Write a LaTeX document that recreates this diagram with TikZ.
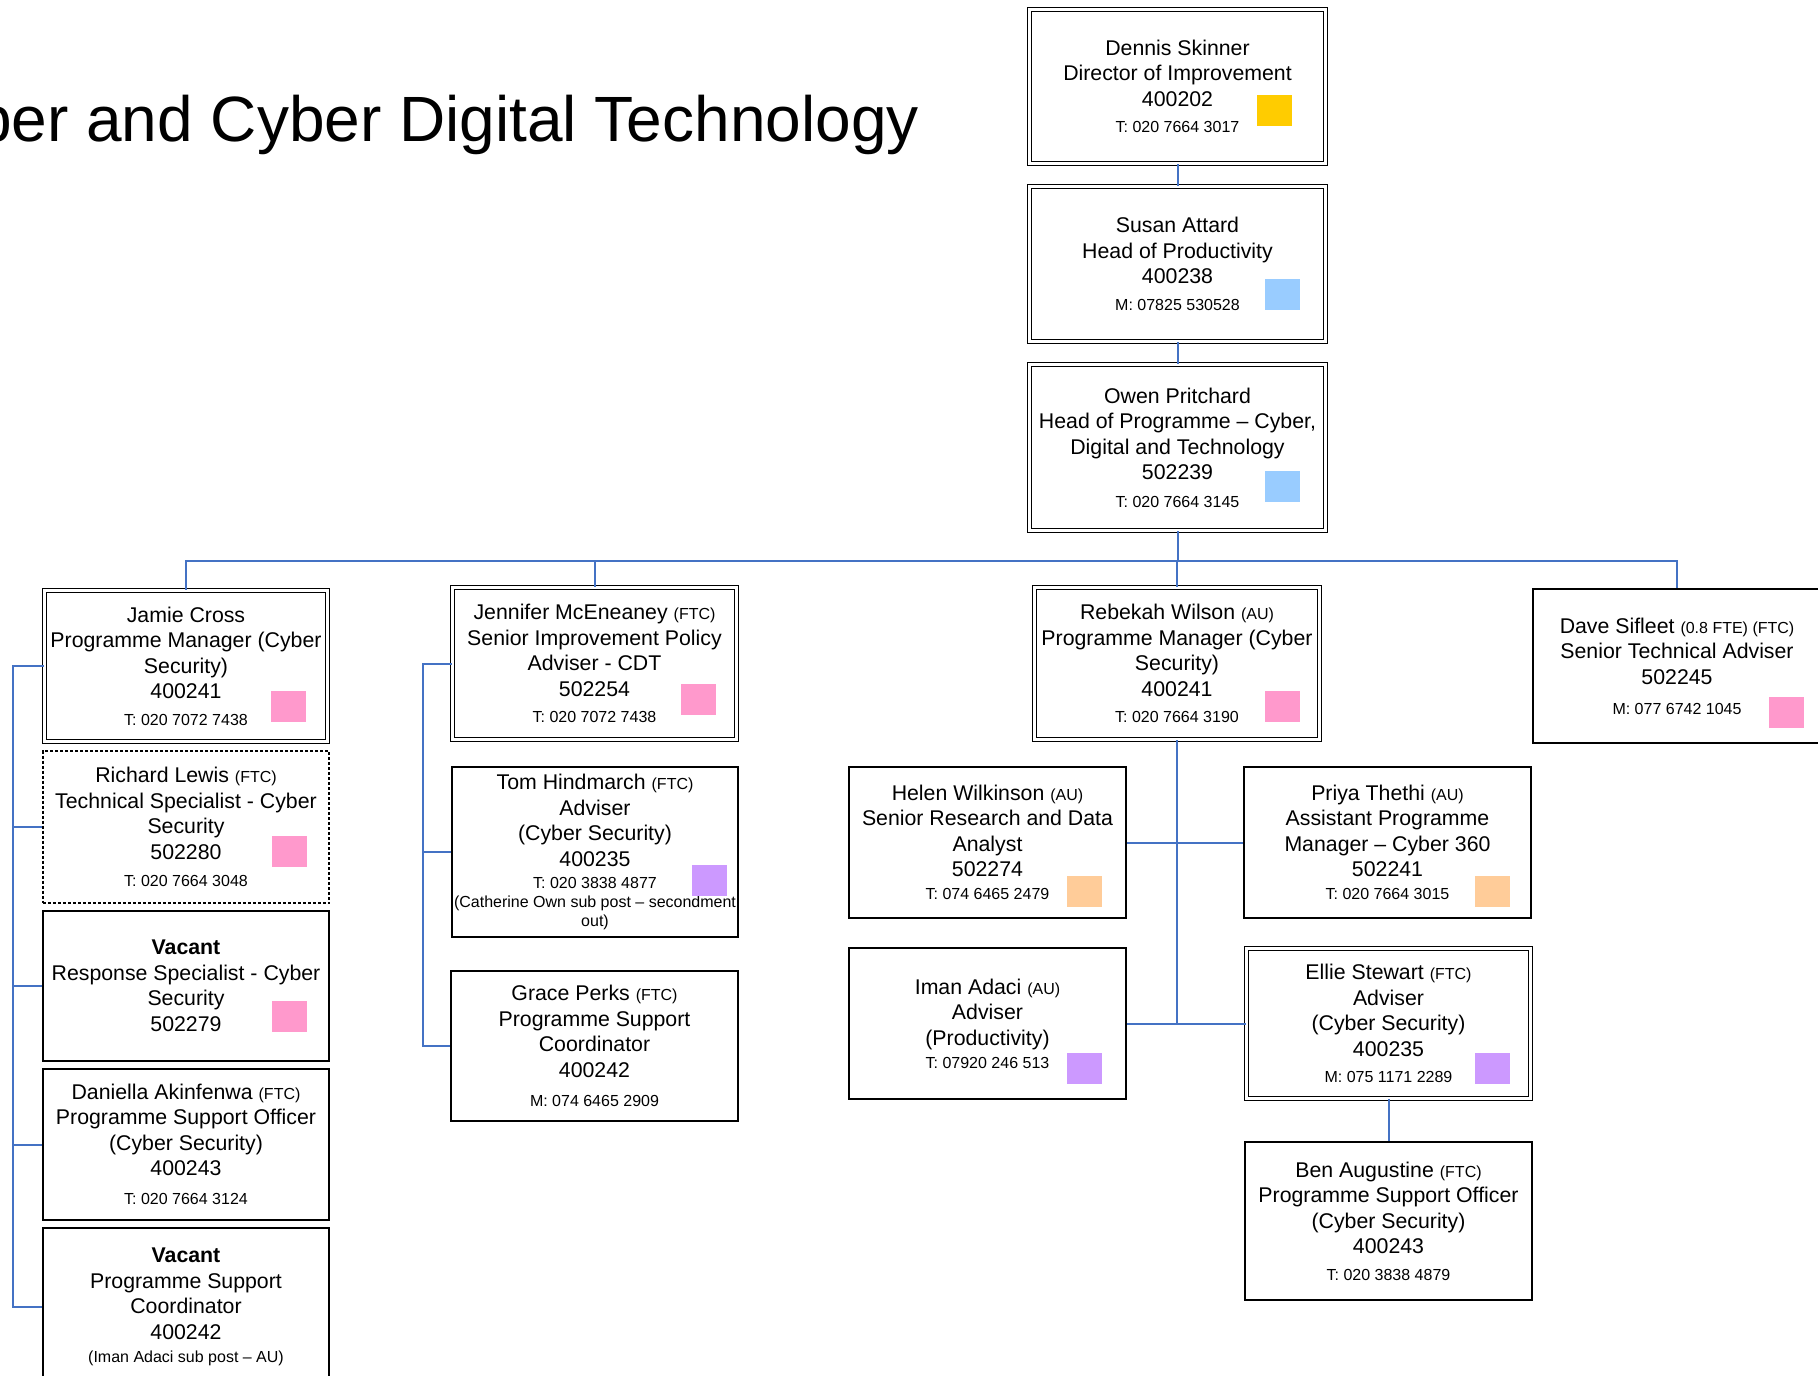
\documentclass[tikz,border=0pt]{standalone}
\usepackage{fontspec}
\setmainfont{Liberation Sans}
\usetikzlibrary{calc}
\definecolor{cyel}{HTML}{FFCC00}
\definecolor{cblu}{HTML}{99CCFF}
\definecolor{cpnk}{HTML}{FF99CC}
\definecolor{corg}{HTML}{FFCC99}
\definecolor{cpur}{HTML}{CC99FF}
\definecolor{connblue}{HTML}{4472C4}
\newcommand\smtxt[1]{{\fontsize{16}{25.5}\selectfont #1}}
\tikzset{
  box/.style={draw=black, line width=1.6pt, fill=white, align=center, inner sep=1pt,
    font=\fontsize{21.3}{25.5}\selectfont},
  dbox/.style={box, line width=1.3pt, double=white, double distance=2.6pt},
  sq/.style={inner sep=0pt, minimum width=35pt, minimum height=31pt},
  conn/.style={draw=connblue, line width=2pt},
}
\begin{document}
\begin{tikzpicture}[x=1pt,y=-1pt]
\fill[white] (0,0) rectangle (1818,1376);
\useasboundingbox (0,0) rectangle (1818,1376);
\clip (0,0) rectangle (1818,1376);

\node[anchor=base east, inner sep=0pt, font=\fontsize{64}{70}\selectfont] (title) at (919,141) {ber and Cyber Digital Technology};

% top chain
\node[dbox, minimum width=295.8pt, minimum height=153.8pt] (dennis) at (1177.5,86.5)
  {Dennis Skinner\\Director of Improvement\\400202\\[1pt]\smtxt{T: 020 7664 3017}};
\node[dbox, minimum width=295.8pt, minimum height=154.8pt] (susan) at (1177.5,264)
  {Susan Attard\\Head of Productivity\\400238\\[1pt]\smtxt{M: 07825 530528}};
\node[dbox, minimum width=295.8pt, minimum height=165.8pt] (owen) at (1177.5,447.5)
  {Owen Pritchard\\Head of Programme \textendash{} Cyber,\\Digital and Technology\\502239\\[2pt]\smtxt{T: 020 7664 3145}};

% left column
\node[dbox, minimum width=282.8pt, minimum height=150.8pt] (jamie) at (186,666)
  {Jamie Cross\\Programme Manager (Cyber\\Security)\\400241\\[1pt]\smtxt{T: 020 7072 7438}};
\node[box, dash pattern=on 3pt off 2pt, minimum width=286.4pt, minimum height=152.4pt] (richard) at (186,827)
  {Richard Lewis \smtxt{(FTC)}\\Technical Specialist - Cyber\\Security\\502280\\[2pt]\smtxt{T: 020 7664 3048}};
\node[box, minimum width=286.4pt, minimum height=150.4pt] (vacrs) at (186,986)
  {\textbf{Vacant}\\Response Specialist - Cyber\\Security\\502279};
\node[box, minimum width=286.4pt, minimum height=151.4pt] (daniella) at (186,1144.5)
  {Daniella Akinfenwa \smtxt{(FTC)}\\Programme Support Officer\\(Cyber Security)\\400243\\[3.5pt]\smtxt{T: 020 7664 3124}};
\node[box, minimum width=286.4pt, minimum height=158.4pt] (vacpsc) at (186,1307)
  {\textbf{Vacant}\\Programme Support\\Coordinator\\400242\\[-2.5pt]\smtxt{(Iman Adaci sub post \textendash{} AU)}};

% second column
\node[dbox, minimum width=283.8pt, minimum height=151.8pt] (jennifer) at (594.5,663.5)
  {Jennifer McEneaney \smtxt{(FTC)}\\Senior Improvement Policy\\Adviser - CDT\\502254\\[1pt]\smtxt{T: 020 7072 7438}};
\node[box, minimum width=286.4pt, minimum height=170.4pt] (tom) at (595,852)
  {Tom Hindmarch \smtxt{(FTC)}\\Adviser\\(Cyber Security)\\400235\\[-3.5pt]\smtxt{T: 020 3838 4877}\\[-6.5pt]\smtxt{(Catherine Own sub post \textendash{} secondment}\\[-6.5pt]\smtxt{out)}};
\node[box, minimum width=287.4pt, minimum height=150.4pt] (grace) at (594.5,1046)
  {Grace Perks \smtxt{(FTC)}\\Programme Support\\Coordinator\\400242\\[3.5pt]\smtxt{M: 074 6465 2909}};

% third group
\node[dbox, minimum width=284.8pt, minimum height=151.8pt] (rebekah) at (1177,663.5)
  {Rebekah Wilson \smtxt{(AU)}\\Programme Manager (Cyber\\Security)\\400241\\[1pt]\smtxt{T: 020 7664 3190}};
\node[box, minimum width=277.4pt, minimum height=151.4pt] (helen) at (987.5,842.5)
  {Helen Wilkinson \smtxt{(AU)}\\Senior Research and Data\\Analyst\\502274\\[-2.5pt]\smtxt{T: 074 6465 2479}};
\node[box, minimum width=287.4pt, minimum height=151.4pt] (priya) at (1387.5,842.5)
  {Priya Thethi \smtxt{(AU)}\\Assistant Programme\\Manager \textendash{} Cyber 360\\502241\\[-2.5pt]\smtxt{T: 020 7664 3015}};
\node[box, minimum width=277.4pt, minimum height=151.4pt] (iman) at (987.5,1023.5)
  {Iman Adaci \smtxt{(AU)}\\Adviser\\(Productivity)\\[-2.5pt]\smtxt{T: 07920 246 513}};
\node[dbox, minimum width=283.8pt, minimum height=149.8pt] (ellie) at (1388.5,1023.5)
  {Ellie Stewart \smtxt{(FTC)}\\Adviser\\(Cyber Security)\\400235\\[1pt]\smtxt{M: 075 1171 2289}};
\node[box, minimum width=287.4pt, minimum height=158.4pt] (ben) at (1388.5,1221)
  {Ben Augustine \smtxt{(FTC)}\\Programme Support Officer\\(Cyber Security)\\400243\\[1pt]\smtxt{T: 020 3838 4879}};

% right
\node[box, minimum width=288.4pt, minimum height=154.4pt] (dave) at (1677,666)
  {Dave Sifleet \smtxt{(0.8 FTE) (FTC)}\\Senior Technical Adviser\\502245\\[4.5pt]\smtxt{M: 077 6742 1045}};

% colour squares
\node[sq, fill=cyel] (sqdennis) at (1274.5,110.5) {};
\node[sq, fill=cblu] (sqsusan) at (1282.5,294) {};
\node[sq, fill=cblu] (sqowen) at (1282.5,486.5) {};
\node[sq, fill=cpnk] (sqjamie) at (288.5,706) {};
\node[sq, fill=cpnk] (sqrichard) at (289.5,851.5) {};
\node[sq, fill=cpnk] (sqvacrs) at (289.5,1016) {};
\node[sq, fill=cpnk] (sqjennifer) at (698,699) {};
\node[sq, fill=cpur] (sqtom) at (709.5,880) {};
\node[sq, fill=cpnk] (sqrebekah) at (1282.5,706) {};
\node[sq, fill=corg] (sqhelen) at (1084,891.5) {};
\node[sq, fill=corg] (sqpriya) at (1492.5,891.5) {};
\node[sq, fill=cpur] (sqiman) at (1084,1068.5) {};
\node[sq, fill=cpur] (sqellie) at (1492.5,1068.5) {};
\node[sq, fill=cpnk] (sqdave) at (1786.5,712.5) {};

% connectors
\coordinate (bus) at (1177.5,561);
\coordinate (lx) at (13,0);
\coordinate (mx) at (423,0);
\draw[conn] (dennis.south) -- (susan.north);
\draw[conn] (susan.south) -- (owen.north);
\draw[conn] (owen.south) -- (bus);
\draw[conn] (jamie.north) |- (bus) -| (dave.north);
\draw[conn] (jennifer.north) -- (jennifer.north |- bus);
\draw[conn] (rebekah.north) -- (rebekah.north |- bus);

\draw[conn] (jamie.west) -- (jamie.west -| lx) -- (vacpsc.west -| lx) -- (vacpsc.west);
\draw[conn] (richard.west -| lx) -- (richard.west);
\draw[conn] (vacrs.west -| lx) -- (vacrs.west);
\draw[conn] (daniella.west -| lx) -- (daniella.west);

\draw[conn] (jennifer.west) -- (jennifer.west -| mx) -- (grace.west -| mx) -- (grace.west);
\draw[conn] (tom.west -| mx) -- (tom.west);

\draw[conn] (rebekah.south) -- (rebekah.south |- iman.east);
\draw[conn] (helen.east) -- (priya.west);
\draw[conn] (iman.east) -- (ellie.west);
\draw[conn] (ellie.south) -- (ben.north);
\end{tikzpicture}
\end{document}
